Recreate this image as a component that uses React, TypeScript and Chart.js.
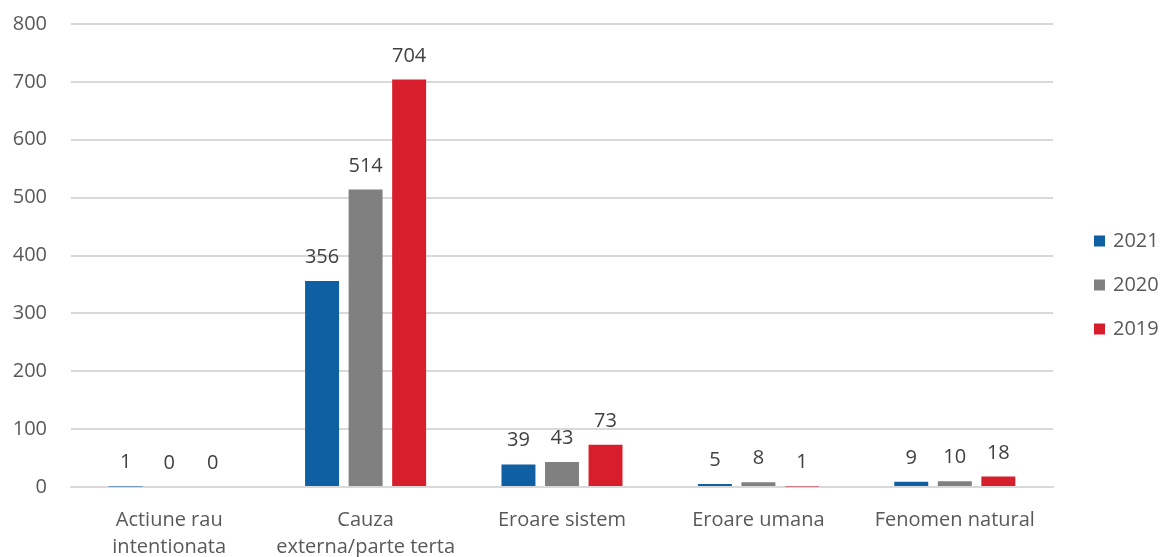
import React, { useEffect, useRef } from "react";
import { Chart, registerables } from "chart.js";

Chart.register(...registerables);

const categories: (string | string[])[] = [
  ["Actiune rau", "intentionata"],
  ["Cauza", "externa/parte terta"],
  "Eroare sistem",
  "Eroare umana",
  "Fenomen natural",
];
const seriesNames = ["2021", "2020", "2019"];
const values2021 = [1, 356, 39, 5, 9];
const values2020 = [0, 514, 43, 8, 10];
const values2019 = [0, 704, 73, 1, 18];
const seriesColors = ["#0F5FA3", "#808080", "#D81E2C"];

const FONT = "'Open Sans', sans-serif";
const FS = 20;
const TEXT = "#595959";

const labelPlugin = {
  id: "valueLabels",
  afterDatasetsDraw(chart: any) {
    const ctx = chart.ctx;
    ctx.save();
    ctx.font = `${FS}px ${FONT}`;
    ctx.fillStyle = "#404040";
    ctx.textAlign = "center";
    ctx.textBaseline = "alphabetic";
    chart.data.datasets.forEach((ds: any, i: number) => {
      const meta = chart.getDatasetMeta(i);
      meta.data.forEach((bar: any, j: number) => {
        ctx.fillText(String(ds.data[j]), bar.x, bar.y - 18);
      });
    });
    ctx.restore();
  },
};

const legendPlugin = {
  id: "sideLegend",
  afterDraw(chart: any) {
    const ctx = chart.ctx;
    const area = chart.chartArea;
    ctx.save();
    ctx.font = `${FS}px ${FONT}`;
    ctx.textAlign = "left";
    ctx.textBaseline = "middle";
    const mid = chart.height / 2 + 6.5;
    chart.data.datasets.forEach((ds: any, i: number) => {
      const y = mid + (i - 1) * 44;
      ctx.fillStyle = ds.backgroundColor;
      ctx.fillRect(area.right + 41, y - 5.5, 11, 11);
      ctx.fillStyle = TEXT;
      ctx.fillText(ds.label, area.right + 60, y);
    });
    ctx.restore();
  },
};

export default function App() {
  const ref = useRef<HTMLCanvasElement>(null);
  useEffect(() => {
    if (!ref.current) return;
    const data = [values2021, values2020, values2019];
    const chart = new Chart(ref.current, {
      type: "bar",
      data: {
        labels: categories,
        datasets: seriesNames.map((name, i) => ({
          label: name,
          data: data[i],
          backgroundColor: seriesColors[i],
          categoryPercentage: 0.665,
          barPercentage: 0.78,
        })),
      },
      options: {
        animation: false,
        responsive: false,
        maintainAspectRatio: false,
        layout: { padding: { left: 0, top: 24, right: 111, bottom: 0 } },
        plugins: {
          legend: { display: false },
          tooltip: { enabled: false },
        },
        scales: {
          x: {
            grid: { display: false },
            border: { display: true, color: "#d9d9d9", width: 2 },
            afterFit(scale: any) {
              scale.height = 70;
              scale.paddingLeft = 0;
              scale.paddingRight = 0;
            },
            ticks: {
              font: { family: FONT, size: FS, lineHeight: 1.35 },
              color: TEXT,
              padding: 12,
              maxRotation: 0,
              autoSkip: false,
            },
          },
          y: {
            min: 0,
            max: 800,
            afterFit(scale: any) {
              scale.width = 71;
              scale.paddingTop = 0;
              scale.paddingBottom = 0;
            },
            grid: { color: "#d9d9d9", lineWidth: 2, drawTicks: false },
            border: { display: false },
            ticks: {
              stepSize: 100,
              font: { family: FONT, size: FS },
              color: TEXT,
              padding: 24,
            },
          },
        },
      },
      plugins: [labelPlugin, legendPlugin],
    });
    return () => chart.destroy();
  }, []);
  return (
    <div style={{ position: "fixed", left: 0, top: 0, width: 1164, height: 557, background: "#fff" }}>
      <canvas ref={ref} width={1164} height={557} />
    </div>
  );
}
